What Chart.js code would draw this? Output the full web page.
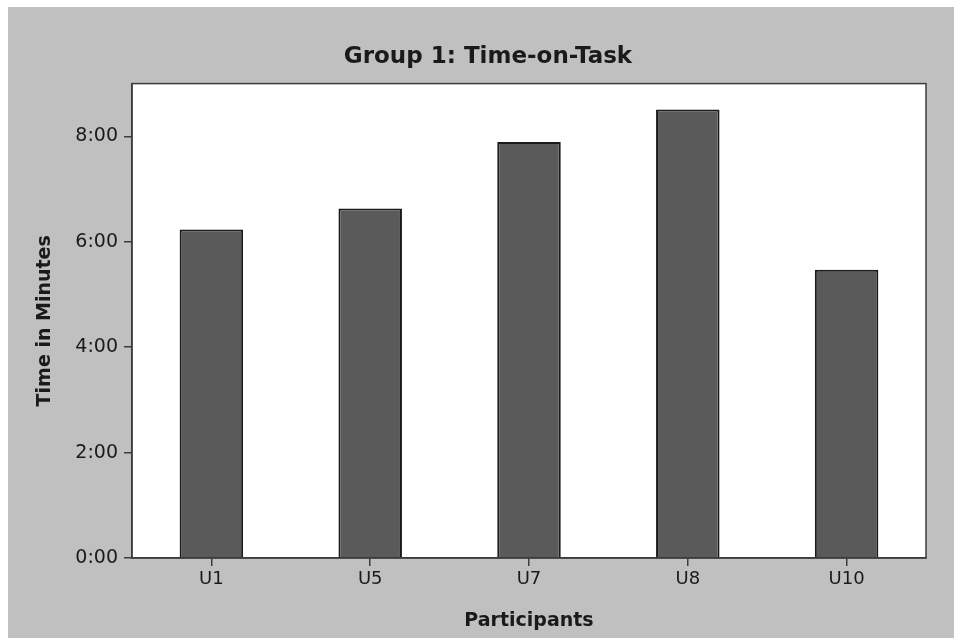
<!DOCTYPE html>
<html>
<head>
<meta charset="utf-8">
<title>Group 1: Time-on-Task</title>
<script src="https://cdn.jsdelivr.net/npm/chart.js@4.4.1/dist/chart.umd.min.js"></script>
<style>
  html, body { margin: 0; padding: 0; background: #fff; }
  #wrap { width: 954px; height: 638px; position: relative; }
</style>
</head>
<body>
<div id="wrap"><canvas id="barChart"></canvas></div>
<script>
const participants = ["U1", "U5", "U7", "U8", "U10"];
const timeMinutes = [6.23, 6.63, 7.89, 8.51, 5.47];
const yMin = 0;
const yMax = 9;
const yStep = 2;

const FONT = "'DejaVu Sans', Verdana, sans-serif";
const TEXT = "#1a1a1a";
const AXIS = "#3c3c3c";

function formatMinutes(v) {
  const m = Math.floor(v);
  const s = Math.round((v - m) * 60);
  return m + ":" + String(s).padStart(2, "0");
}

// gray page behind the chart, white plot area with a dark frame
const frame = {
  id: "frame",
  beforeDraw(chart) {
    const { ctx, chartArea: a } = chart;
    ctx.save();
    ctx.fillStyle = "#c0c0c0";
    ctx.fillRect(8, 7, chart.width - 8, chart.height - 7);
    ctx.fillStyle = "#fff";
    ctx.fillRect(a.left, a.top, a.right - a.left, a.bottom - a.top);
    ctx.restore();
  },
  afterDraw(chart) {
    const { ctx, chartArea: a } = chart;
    ctx.save();
    ctx.strokeStyle = AXIS;
    ctx.lineWidth = 1.5;
    ctx.strokeRect(a.left, a.top, a.right - a.left, a.bottom - a.top);
    ctx.restore();
  },
};

const ctx = document.getElementById("barChart").getContext("2d");
new Chart(ctx, {
  type: "bar",
  data: {
    labels: participants,
    datasets: [
      {
        label: "Time in Minutes",
        data: timeMinutes,
        backgroundColor: "#5a5a5a",
        borderColor: "#1a1a1a",
        borderWidth: 2,
        barPercentage: 0.4,
        categoryPercentage: 1.0,
      },
    ],
  },
  options: {
    responsive: true,
    maintainAspectRatio: false,
    animation: false,
    devicePixelRatio: 1,
    layout: { padding: { left: 22, right: 0, top: 0, bottom: 0 } },
    plugins: {
      legend: { display: false },
      tooltip: { enabled: false },
      title: {
        display: true,
        text: "Group 1: Time-on-Task",
        color: TEXT,
        font: { family: FONT, size: 23, weight: "bold" },
        padding: { top: 43, bottom: 13 },
      },
    },
    scales: {
      x: {
        grid: {
          offset: false,
          drawOnChartArea: false,
          drawTicks: true,
          tickLength: 8,
          color: AXIS,
          lineWidth: 1.5,
        },
        border: { display: true, color: AXIS, width: 1.5 },
        ticks: {
          color: TEXT,
          padding: 3,
          font: { family: FONT, size: 18 },
        },
        title: {
          display: true,
          text: "Participants",
          color: TEXT,
          font: { family: FONT, size: 19, weight: "bold" },
          padding: { top: 4, bottom: 6 },
        },
        afterFit(scale) {
          scale.height = 80;
        },
      },
      y: {
        min: yMin,
        max: yMax,
        grid: {
          drawOnChartArea: false,
          drawTicks: true,
          tickLength: 8,
          color: AXIS,
          lineWidth: 1.5,
        },
        border: { display: true, color: AXIS, width: 1.5 },
        ticks: {
          stepSize: yStep,
          includeBounds: false,
          color: TEXT,
          padding: 6,
          font: { family: FONT, size: 19 },
          callback: (v) => formatMinutes(v),
        },
        title: {
          display: true,
          text: "Time in Minutes",
          color: TEXT,
          font: { family: FONT, size: 19, weight: "bold" },
          padding: { top: 12, bottom: 4 },
        },
        afterFit(scale) {
          scale.width = 110;
        },
      },
      yRight: {
        position: "right",
        display: true,
        grid: { display: false },
        border: { display: false },
        ticks: { display: false },
        afterFit(scale) {
          scale.width = 28;
        },
      },
    },
  },
  plugins: [frame],
});
</script>
</body>
</html>
